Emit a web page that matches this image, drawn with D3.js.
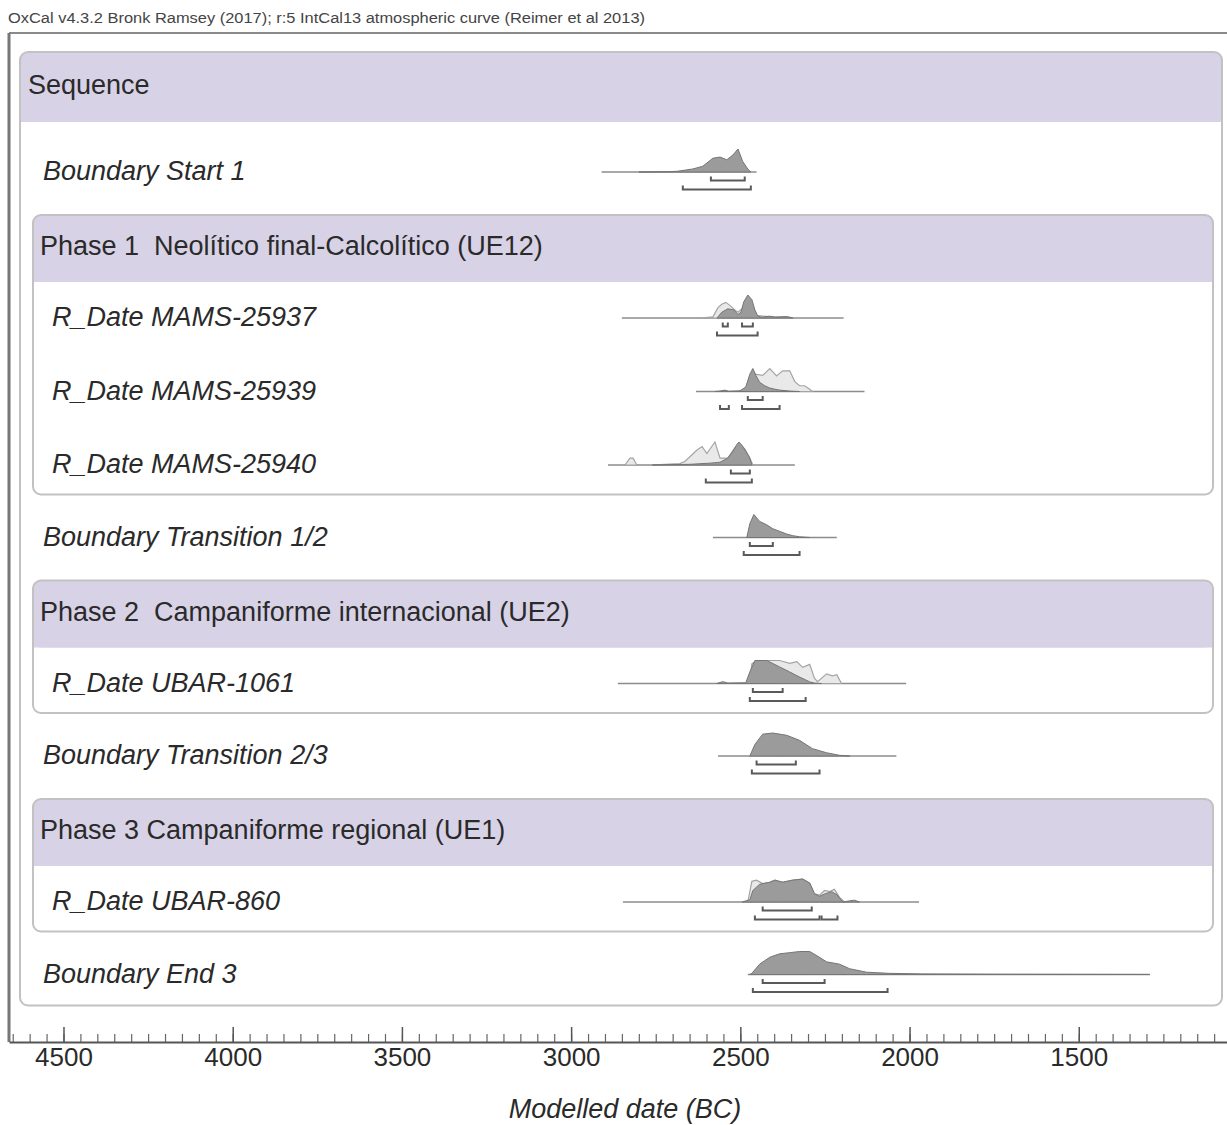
<!DOCTYPE html>
<html>
<head>
<meta charset="utf-8">
<script src="https://cdn.jsdelivr.net/npm/d3@7"></script>
<style>
  body { margin: 0; background: #fff; }
  svg { display: block; font-family: "Liberation Sans", Arial, sans-serif; }
  text { white-space: pre; }
</style>
</head>
<body>
<svg id="chart" width="1227" height="1125"></svg>
<script>
// ---- data (years BC, relative probability 0..1) ----
const headerText = 'OxCal v4.3.2 Bronk Ramsey (2017); r:5 IntCal13 atmospheric curve (Reimer et al 2013)'
const axisTitle = 'Modelled date (BC)'
const majorTicks = [4500, 4000, 3500, 3000, 2500, 2000, 1500]
const minorTicks = d3.range(4650, 1050, -50)

const sequenceLabel = 'Sequence'
const phaseLabels = [
	'Phase 1  Neolítico final-Calcolítico (UE12)',
	'Phase 2  Campaniforme internacional (UE2)',
	'Phase 3 Campaniforme regional (UE1)'
]

// Boundary Start 1
const start1Span = [2910, 2452]
const start1Post = [[2800, 0], [2720, 0.01], [2687, 0.03], [2641, 0.13], [2611, 0.25], [2581, 0.6], [2560, 0.65], [2540, 0.53], [2522, 0.74], [2507, 1], [2493, 0.46], [2478, 0.13], [2469, 0]]
const start1R68 = [[2587, 2487]]
const start1R95 = [[2670, 2469]]

// R_Date MAMS-25937
const mams37Span = [2850, 2195]
const mams37Prior = [[2619, 0], [2581, 0.05], [2566, 0.45], [2555, 0.6], [2543, 0.68], [2531, 0.55], [2516, 0.35], [2507, 0.25], [2495, 0.4], [2478, 0.8], [2466, 0.6], [2452, 0.1], [2413, 0.06], [2363, 0.05], [2339, 0]]
const mams37Post = [[2569, 0], [2555, 0.25], [2537, 0.4], [2519, 0.35], [2507, 0.15], [2498, 0.25], [2490, 0.7], [2478, 1], [2466, 0.8], [2457, 0.35], [2449, 0.1], [2437, 0.03], [2413, 0.08], [2396, 0.03], [2363, 0.06], [2345, 0]]
const mams37R68 = [[2552, 2537], [2495, 2463]]
const mams37R95 = [[2569, 2449]]

// R_Date MAMS-25939
const mams39Span = [2631, 2133]
const mams39Prior = [[2487, 0], [2481, 0.1], [2472, 0.5], [2457, 0.75], [2434, 0.7], [2413, 1], [2393, 0.68], [2375, 0.9], [2354, 0.9], [2339, 0.43], [2325, 0.25], [2310, 0.25], [2295, 0.1], [2287, 0]]
const mams39Post = [[2575, 0], [2560, 0.02], [2546, 0.06], [2534, 0.01], [2501, 0.03], [2484, 0.2], [2472, 0.75], [2463, 1], [2454, 0.7], [2443, 0.4], [2428, 0.25], [2413, 0.15], [2398, 0.1], [2384, 0.06], [2354, 0.02], [2325, 0]]
const mams39R68 = [[2478, 2434]]
const mams39R95 = [[2560, 2534], [2495, 2384]]

// R_Date MAMS-25940
const mams40Span = [2891, 2339]
const mams40Prior = [[2841, 0], [2826, 0.3], [2817, 0.3], [2806, 0], [2738, 0.02], [2679, 0.06], [2664, 0.15], [2628, 0.65], [2613, 0.8], [2599, 0.5], [2575, 1], [2560, 0.3], [2537, 0.3], [2516, 0.75], [2501, 0.9], [2487, 0.7], [2472, 0.3], [2463, 0]]
const mams40Post = [[2760, 0], [2738, 0.01], [2649, 0.03], [2590, 0.08], [2560, 0.12], [2537, 0.3], [2522, 0.6], [2510, 0.9], [2504, 1], [2495, 0.85], [2484, 0.6], [2472, 0.3], [2466, 0]]
const mams40R68 = [[2528, 2472]]
const mams40R95 = [[2602, 2466]]

// Boundary Transition 1/2
const trans12Span = [2581, 2215]
const trans12Post = [[2481, 0], [2472, 0.6], [2460, 1], [2443, 0.7], [2422, 0.55], [2404, 0.38], [2384, 0.27], [2363, 0.15], [2345, 0.08], [2325, 0.03], [2295, 0]]
const trans12R68 = [[2472, 2404]]
const trans12R95 = [[2490, 2325]]

// R_Date UBAR-1061
const ubar1061Span = [2862, 2010]
const ubar1061Prior = [[2472, 0], [2466, 0.85], [2452, 1], [2384, 1], [2354, 0.88], [2333, 0.95], [2316, 0.7], [2295, 0.83], [2281, 0.23], [2272, 0.08], [2245, 0.42], [2228, 0.33], [2215, 0.38], [2201, 0]]
const ubar1061Post = [[2570, 0], [2552, 0.08], [2537, 0.02], [2484, 0.03], [2472, 0.5], [2457, 1], [2422, 1], [2384, 0.72], [2354, 0.5], [2325, 0.28], [2295, 0.07], [2281, 0.02], [2260, 0]]
const ubar1061R68 = [[2463, 2375]]
const ubar1061R95 = [[2472, 2307]]

// Boundary Transition 2/3
const trans23Span = [2566, 2039]
const trans23Post = [[2472, 0], [2457, 0.5], [2434, 0.95], [2404, 1], [2363, 0.9], [2325, 0.68], [2287, 0.32], [2245, 0.14], [2207, 0.03], [2177, 0]]
const trans23R68 = [[2452, 2336]]
const trans23R95 = [[2466, 2266]]

// R_Date UBAR-860
const ubar860Span = [2847, 1972]
const ubar860Prior = [[2478, 0], [2466, 0.9], [2452, 0.95], [2434, 0.8], [2413, 0.86], [2398, 0.95], [2375, 0.86], [2345, 0.95], [2316, 1], [2295, 0.82], [2281, 0.36], [2266, 0.3], [2251, 0.5], [2236, 0.45], [2222, 0.55], [2207, 0.2], [2192, 0]]
const ubar860Post = [[2495, 0], [2472, 0.1], [2463, 0.5], [2443, 0.77], [2413, 0.86], [2398, 0.95], [2375, 0.86], [2345, 0.95], [2316, 1], [2295, 0.82], [2281, 0.36], [2266, 0.25], [2251, 0.35], [2230, 0.45], [2213, 0.3], [2198, 0], [2177, 0.05], [2163, 0.08], [2148, 0]]
const ubar860R68 = [[2434, 2289]]
const ubar860R95 = [[2457, 2266], [2260, 2213]]

// Boundary End 3
const end3Span = [2478, 1290]
const end3Post = [[2472, 0], [2466, 0.05], [2443, 0.45], [2413, 0.75], [2384, 0.9], [2354, 0.95], [2325, 1], [2295, 1], [2272, 0.8], [2245, 0.55], [2207, 0.45], [2177, 0.25], [2127, 0.1], [2060, 0.05], [1963, 0.025], [1735, 0.01], [1290, 0]]
const end3R68 = [[2434, 2251]]
const end3R95 = [[2463, 2065]]

const items = [
	{ label: 'Boundary Start 1', phase: null, span: start1Span, post: start1Post, r68: start1R68, r95: start1R95 },
	{ label: 'R_Date MAMS-25937', phase: 0, span: mams37Span, prior: mams37Prior, post: mams37Post, r68: mams37R68, r95: mams37R95 },
	{ label: 'R_Date MAMS-25939', phase: 0, span: mams39Span, prior: mams39Prior, post: mams39Post, r68: mams39R68, r95: mams39R95 },
	{ label: 'R_Date MAMS-25940', phase: 0, span: mams40Span, prior: mams40Prior, post: mams40Post, r68: mams40R68, r95: mams40R95 },
	{ label: 'Boundary Transition 1/2', phase: null, span: trans12Span, post: trans12Post, r68: trans12R68, r95: trans12R95 },
	{ label: 'R_Date UBAR-1061', phase: 1, span: ubar1061Span, prior: ubar1061Prior, post: ubar1061Post, r68: ubar1061R68, r95: ubar1061R95 },
	{ label: 'Boundary Transition 2/3', phase: null, span: trans23Span, post: trans23Post, r68: trans23R68, r95: trans23R95 },
	{ label: 'R_Date UBAR-860', phase: 2, span: ubar860Span, prior: ubar860Prior, post: ubar860Post, r68: ubar860R68, r95: ubar860R95 },
	{ label: 'Boundary End 3', phase: null, span: end3Span, post: end3Post, r68: end3R68, r95: end3R95 }
]

// ---- layout ----
const width = 1227
const frameLeft = 9, frameTop = 33, axisY = 1042
const seqTop = 52, seqHeaderH = 70
const phaseHeaderH = 67
const purple = '#d8d2e6'
const labelFont = 27

const svg = d3.select('#chart')
svg.append('rect').attr('width', width).attr('height', 1125).attr('fill', '#fff')

const x = d3.scaleLinear().domain([4661, 1062]).range([frameLeft, width])
const h = d3.scaleLinear().domain([0, 1]).range([0, 23])

// compute baselines and phase boxes
let lastY = null, ref = null, prevPhase = null
const phaseBoxes = []
items.forEach((it, i) => {
	let y
	if (i === 0) {
		y = seqTop + 120
	} else if (it.phase !== prevPhase) {
		ref = lastY
		if (prevPhase !== null) {
			phaseBoxes[phaseBoxes.length - 1].bottom = lastY + 29.5
			ref = lastY + 29.5
		}
		if (it.phase !== null) {
			const top = ref + 43
			phaseBoxes.push({ top: top, label: phaseLabels[it.phase] })
			y = top + 103
		} else {
			y = ref + 43
		}
	} else {
		y = lastY + 73.5
	}
	it.y = y
	lastY = y
	prevPhase = it.phase
})
const seqBottom = lastY + 31

function drawBox(x0, x1, top, bottom, headH, label, labelX) {
	const g = svg.append('g')
	g.append('rect').attr('x', x0).attr('y', top).attr('width', x1 - x0).attr('height', bottom - top)
		.attr('rx', 8).attr('fill', '#fff')
	g.append('rect').attr('x', x0).attr('y', top).attr('width', x1 - x0).attr('height', headH)
		.attr('rx', 8).attr('fill', purple)
	g.append('rect').attr('x', x0).attr('y', top + headH - 10).attr('width', x1 - x0).attr('height', 10)
		.attr('fill', purple)
	g.append('rect').attr('x', x0).attr('y', top).attr('width', x1 - x0).attr('height', bottom - top)
		.attr('rx', 8).attr('fill', 'none').attr('stroke', '#c2c2c2').attr('stroke-width', 2)
	g.append('text').attr('x', labelX).attr('y', top + headH / 2 - 3).attr('dy', '0.36em')
		.attr('font-size', labelFont).attr('fill', '#2a2a2a').text(label)
}

// top note
svg.append('text').attr('x', 8).attr('y', 23).attr('font-size', 14).attr('fill', '#444')
	.attr('textLength', 637).attr('lengthAdjust', 'spacingAndGlyphs').text(headerText)

// frame
svg.append('line').attr('x1', frameLeft).attr('x2', width).attr('y1', frameTop).attr('y2', frameTop)
	.attr('stroke', '#8a8a8a').attr('stroke-width', 2)
svg.append('line').attr('x1', frameLeft).attr('x2', frameLeft).attr('y1', frameTop).attr('y2', axisY)
	.attr('stroke', '#777').attr('stroke-width', 3)

drawBox(20, 1222, seqTop, seqBottom, seqHeaderH, sequenceLabel, 28)
phaseBoxes.forEach(p => drawBox(33, 1213, p.top, p.bottom, phaseHeaderH, p.label, 40))

// distributions
const rows = svg.append('g').selectAll('g').data(items).join('g')

rows.append('text')
	.attr('x', d => d.phase === null ? 43 : 52)
	.attr('y', d => d.y).attr('dy', '0.3em')
	.attr('font-size', labelFont).attr('font-style', 'italic').attr('fill', '#2a2a2a')
	.text(d => d.label)

rows.append('line')
	.attr('x1', d => x(d.span[0])).attr('x2', d => x(d.span[1]))
	.attr('y1', d => d.y).attr('y2', d => d.y)
	.attr('stroke', '#8c8c8c').attr('stroke-width', 1.5)

function areaFor(base) {
	return d3.area().x(p => x(p[0])).y0(base).y1(p => base - h(p[1]))
}

rows.filter(d => d.prior).append('path')
	.attr('d', d => areaFor(d.y)(d.prior))
	.attr('fill', '#e9e9e9').attr('stroke', '#a4a4a4').attr('stroke-width', 1.2)

rows.append('path')
	.attr('d', d => areaFor(d.y)(d.post))
	.attr('fill', '#9b9b9b').attr('stroke', '#757575').attr('stroke-width', 1)

function bracket(a, b, y) {
	const p = d3.path()
	p.moveTo(x(a), y - 4)
	p.lineTo(x(a), y)
	p.lineTo(x(b), y)
	p.lineTo(x(b), y - 4)
	return p.toString()
}

rows.each(function (d) {
	const g = d3.select(this)
	d.r68.forEach(r => g.append('path').attr('d', bracket(r[0], r[1], d.y + 8.5))
		.attr('fill', 'none').attr('stroke', '#5a5a5a').attr('stroke-width', 2))
	d.r95.forEach(r => g.append('path').attr('d', bracket(r[0], r[1], d.y + 17.5))
		.attr('fill', 'none').attr('stroke', '#5a5a5a').attr('stroke-width', 2))
})

// axis
const minorAxis = d3.axisBottom(x).tickValues(minorTicks).tickSizeInner(-8).tickSizeOuter(0).tickFormat('')
const majorAxis = d3.axisBottom(x).tickValues(majorTicks).tickSizeInner(-15).tickSizeOuter(0).tickPadding(6)
	.tickFormat(d3.format('d'))

const gMinor = svg.append('g').attr('transform', `translate(0,${axisY})`).call(minorAxis)
gMinor.select('.domain').remove()
gMinor.selectAll('line').attr('stroke', '#666').attr('stroke-width', 1.2)

const gMajor = svg.append('g').attr('transform', `translate(0,${axisY})`).call(majorAxis)
gMajor.select('.domain').attr('stroke', '#555').attr('stroke-width', 2)
gMajor.selectAll('line').attr('stroke', '#555').attr('stroke-width', 1.5)
gMajor.selectAll('text').attr('font-size', 26).attr('fill', '#2a2a2a')
	.attr('font-family', '"Liberation Sans", Arial, sans-serif')

svg.append('text').attr('x', 625).attr('y', 1108).attr('dy', '0.36em').attr('text-anchor', 'middle')
	.attr('font-size', labelFont).attr('font-style', 'italic').attr('fill', '#2a2a2a').text(axisTitle)
</script>
</body>
</html>
